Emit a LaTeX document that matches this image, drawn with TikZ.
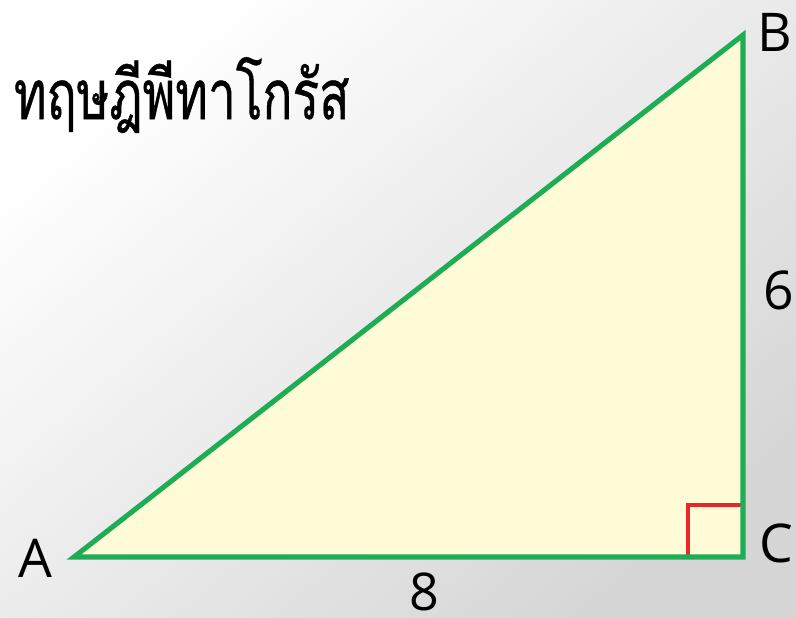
\documentclass[tikz,border=0pt]{standalone}
\usepackage{fontspec}
\setmainfont{Open Sans}
\newfontfamily\thaifont[Script=Thai,FakeStretch=0.72,FakeBold=0.6]{Loma}
\usepackage{xcolor}
\definecolor{pythgreen}{HTML}{1EAD55}
\definecolor{pythred}{HTML}{E8262B}
\definecolor{pythfill}{HTML}{FFFBD6}

\begin{document}
\begin{tikzpicture}[x=0.025cm,y=-0.025cm]
  \useasboundingbox (0,0) rectangle (796,618);
  \shade[left color=white,right color=black!16,shading angle=40] (0,0) rectangle (796,618);
  \coordinate (A) at (74,557);
  \coordinate (B) at (743,35);
  \coordinate (C) at (743,557);
  \fill[pythfill] (A) -- (B) -- (C) -- cycle;
  \draw[pythred,line width=2.2pt] (743,505) -- (688,505) -- (688,557);
  \draw[pythgreen,line width=3.6pt,line join=miter] (A) -- (B) -- (C) -- cycle;
  \node[font=\fontsize{38}{40}\selectfont] (lblA) at (35,558) {A};
  \node[font=\fontsize{38}{40}\selectfont] (lblB) at (775,32) {B};
  \node[font=\fontsize{38}{40}\selectfont] (lblC) at (776,543) {C};
  \node[font=\fontsize{38}{40}\selectfont] (lbl6) at (779,290) {6};
  \node[inner sep=0pt,font=\fontsize{37}{40}\selectfont] (lbl8) at (424,592) {8};
  \node[anchor=west,font=\thaifont\fontsize{49}{54}\selectfont] (title) at (9,95) {ทฤษฎีพีทาโกรัส};
\end{tikzpicture}
\end{document}
